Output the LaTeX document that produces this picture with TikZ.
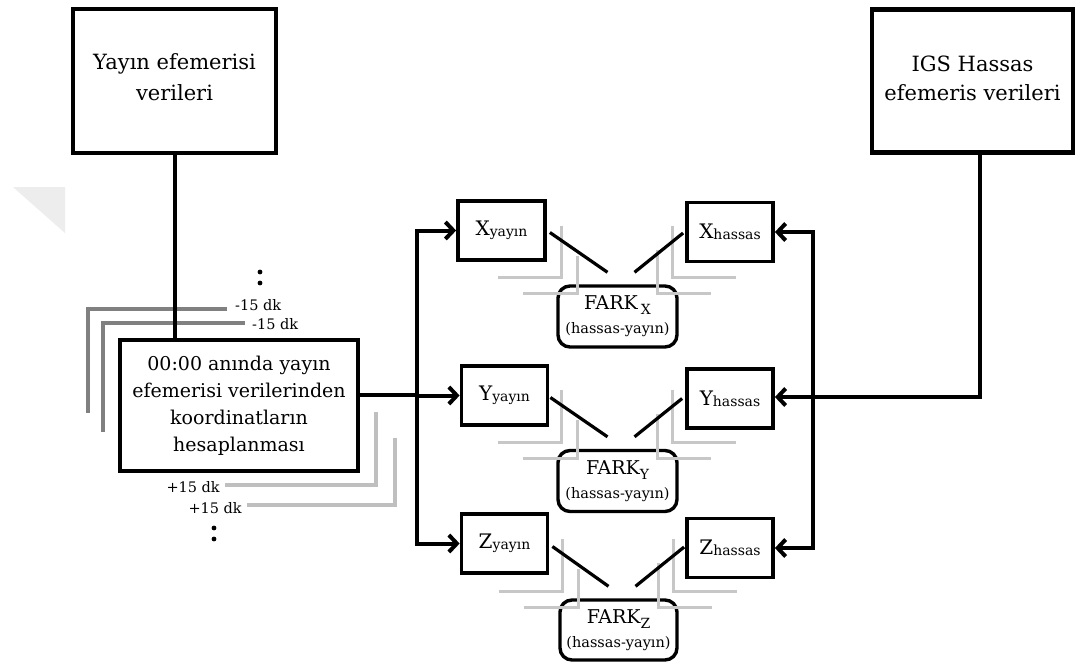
\documentclass[tikz,border=0pt]{standalone}
\usepackage{fontspec}
\setmainfont{DejaVu Serif}
\usetikzlibrary{arrows.meta,calc}
\begin{document}
\begin{tikzpicture}[x=1pt,y=-1pt,
  box/.style={draw,line width=4.2pt,align=center,inner sep=0pt},
  smallbox/.style={box,line width=3.8pt,minimum width=86pt,minimum height=59pt,font=\fontsize{20}{22}\selectfont},
  rbox/.style={box,line width=3.4pt,rounded corners=12pt,minimum width=119pt,minimum height=61pt,font=\fontsize{19}{24}\selectfont},
  conn/.style={line width=4pt,line cap=rect},
  diag/.style={line width=3.2pt},
  arr/.style={line width=4pt,-{Straight Barb[length=8pt,width=17pt]}},
  shadowD/.style={draw=black!50,line width=4pt},
  shadowL/.style={draw=black!25,line width=4pt},
  echo/.style={draw=black!22,line width=3pt},
  lbl/.style={font=\fontsize{14.5}{16}\selectfont,inner sep=0pt}
  ]
\path[use as bounding box,fill=white] (0,0) rectangle (1075,662);
% faint watermark
\fill[black!7] (13,187) -- (65,187) -- (65,233) -- cycle;

% time-shift shadow lines around the computation box
\draw[shadowD] (227,309) -- (88,309) -- (88,413);
\draw[shadowD] (245,323) -- (103,323) -- (103,432);
\draw[shadowL] (376,412) -- (376,485) -- (225,485);
\draw[shadowL] (395,438) -- (395,505) -- (247,505);
\node[lbl,anchor=west] (m1) at (235,305) {-15 dk};
\node[lbl,anchor=west] (m2) at (252,324) {-15 dk};
\node[lbl,anchor=east] (p1) at (220,487) {+15 dk};
\node[lbl,anchor=east] (p2) at (242,508) {+15 dk};
\fill (260,272) circle (2.4pt);
\fill (260,283) circle (2.4pt);
\fill (214,528) circle (2.4pt);
\fill (214,539) circle (2.4pt);

% main boxes
\node[box,minimum width=203pt,minimum height=144pt,font=\fontsize{21}{31}\selectfont] (yb) at (174.5,81) {Yayın efemerisi\\verileri\\[-23pt]\mbox{}};
\node[box,minimum width=201pt,minimum height=143pt,font=\fontsize{21}{29}\selectfont] (ib) at (972.5,81) {IGS Hassas\\efemeris verileri\\[-23pt]\mbox{}};
\node[box,minimum width=238pt,minimum height=131pt,font=\fontsize{19}{27}\selectfont] (main) at (239,405.5) {00:00 anında yayın\\efemerisi verilerinden\\koordinatların\\hesaplanması};

% coordinate boxes
\node[smallbox,minimum width=87pt] (xy) at (501.5,230.5) {X\raisebox{-1pt}{\fontsize{14}{14}\selectfont yayın}};
\node[smallbox] (yy) at (504.5,395.5) {Y\raisebox{-1pt}{\fontsize{14}{14}\selectfont yayın}};
\node[smallbox] (zy) at (504.5,543.5) {Z\raisebox{-1pt}{\fontsize{14}{14}\selectfont yayın}};
\node[smallbox] (xh) at (730,232) {X\raisebox{-1pt}{\fontsize{14}{14}\selectfont hassas}};
\node[smallbox] (yh) at (730,398.5) {Y\raisebox{-1pt}{\fontsize{14}{14}\selectfont hassas}};
\node[smallbox] (zh) at (730,548) {Z\raisebox{-1pt}{\fontsize{14}{14}\selectfont hassas}};

% difference boxes
\node[rbox] (fx) at (617.5,316.5) {FARK\,\raisebox{-5pt}{\fontsize{14}{14}\selectfont X}\\{\fontsize{14.5}{16}\selectfont (hassas-yayın)}};
\node[rbox] (fy) at (617.5,481) {FARK\raisebox{-5pt}{\fontsize{14}{14}\selectfont Y}\\{\fontsize{14.5}{16}\selectfont (hassas-yayın)}};
\node[rbox,minimum width=117pt,minimum height=60pt] (fz) at (618.5,630) {FARK\raisebox{-5pt}{\fontsize{14}{14}\selectfont Z}\\{\fontsize{14.5}{16}\selectfont (hassas-yayın)}};

% faint echo lines near difference boxes
\foreach \f in {fx,fy,fz}{
  \draw[echo] ($(\f)+(-56,-91)$) -- ++(0,52) -- ++(-64,0);
  \draw[echo] ($(\f)+(-40,-61)$) -- ++(0,38) -- ++(-55,0);
  \draw[echo] ($(\f)+(55,-91)$) -- ++(0,52) -- ++(63,0);
  \draw[echo] ($(\f)+(40,-67)$) -- ++(0,44) -- ++(53,0);
}

% diagonal links
\draw[diag] ([shift={(3,2)}]xy.east) -- ($(fx.north)+(-10,-12)$);
\draw[diag] ([shift={(-2,1)}]xh.west) -- ($(fx.north)+(17,-12)$);
\draw[diag] ([shift={(1,2)}]yy.east) -- ($(fy.north)+(-10,-12)$);
\draw[diag] ([shift={(-3,0)}]yh.west) -- ($(fy.north)+(17,-12)$);
\draw[diag] ([shift={(3,3)}]zy.east) -- ($(fz.north)+(-10,-12)$);
\draw[diag] ([shift={(-1,-1)}]zh.west) -- ($(fz.north)+(17,-12)$);

% left: broadcast ephemeris to computation, then bus
\draw[conn] (yb.south) -- (yb.south |- main.north);
\coordinate (lb) at (417,395);
\draw[conn] (main.east |- lb) -- (lb);
\draw[conn] (lb |- xy.west) -- (lb |- zy.west);
\draw[arr] (lb |- xy.west) -- (xy.west);
\draw[arr] (lb |- yy.west) -- (yy.west);
\draw[arr] (lb |- zy.west) -- (zy.west);

% right: precise ephemeris bus
\coordinate (ic) at (980,397);
\coordinate (rb) at (813,397);
\draw[arr] (ic |- ib.south) -- (ic) -- (yh.east |- ic);
\draw[conn] (rb |- xh.east) -- (rb |- zh.east);
\draw[arr] (rb |- xh.east) -- (xh.east);
\draw[arr] (rb |- zh.east) -- (zh.east);
\end{tikzpicture}
\end{document}
